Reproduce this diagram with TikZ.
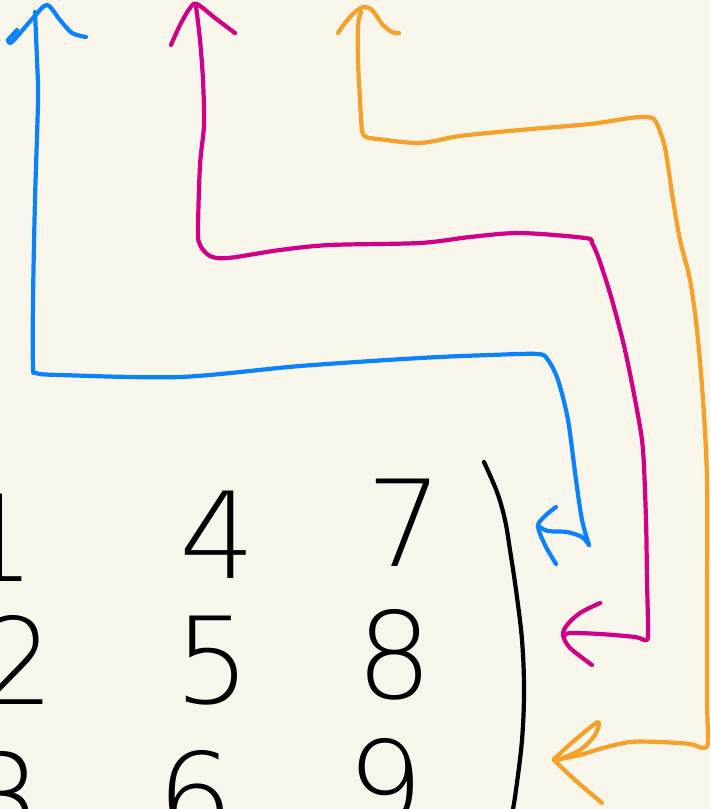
\documentclass[tikz,border=0pt]{standalone}
\usepackage{fontspec}
\newfontfamily\thindigits{DejaVu Sans ExtraLight}
\definecolor{bg}{RGB}{248,246,234}
\definecolor{pblue}{RGB}{12,130,250}
\definecolor{pmag}{RGB}{208,0,135}
\definecolor{porange}{RGB}{245,160,40}
\tikzset{
  pen/.style={line width=4.2pt,line cap=round,line join=round},
  digit/.style={font=\thindigits\fontsize{120}{120}\selectfont, inner sep=0pt, text=black}
}
\begin{document}
\begin{tikzpicture}[x=1pt,y=-1pt]
\useasboundingbox (0,0) rectangle (710,809);
\fill[bg] (0,0) rectangle (710,809);
\clip (0,0) rectangle (710,809);
% digits of the matrix
\node[digit] (d1) at (-2,538) {1};
\node[digit] (d2) at (17,660) {2};
\node[digit] (d3) at (4,797) {3};
\node[digit] (d4) at (218,535) {4};
\node[digit] (d5) at (213,661) {5};
\node[digit] (d6) at (196,796) {6};
\node[digit] (d7) at (405,523) {7};
\node[digit] (d8) at (395,655) {8};
\node[digit] (d9) at (386,784) {9};
% right bracket
\draw[pen,black] plot[smooth,tension=0.6] coordinates {(484,462) (497,492) (505,520) (510,550) (516,590) (522,640) (524,690) (522,740) (516,790) (512,815)};
% blue
\draw[pen,pblue] plot[smooth,tension=0.5] coordinates {(8,40) (12,42) (33,18) (47,5) (60,20) (72,33) (86,37)};
\draw[pen,pblue] (17,30) -- (8,40);
\draw[pen,pblue] plot[smooth,tension=0.5] coordinates {(35,12) (37,60) (38,100) (35,200) (33,300) (33,366) (36,373) (60,375) (180,377) (300,366) (420,358) (490,355) (538,354) (548,360) (558,380) (568,420) (576,480) (582,520) (589,545)};
\draw[pen,pblue] plot[smooth,tension=0.5] coordinates {(589,545) (582,537) (567,532) (548,531) (538,526)};
\draw[pen,pblue] plot[smooth,tension=0.5] coordinates {(556,507) (545,516) (538,526) (545,545) (556,564)};
% magenta
\draw[pen,pmag] plot[smooth,tension=0.5] coordinates {(171,45) (180,25) (190,8) (197,4) (215,18) (235,33)};
\draw[pen,pmag] plot[smooth,tension=0.5] coordinates {(196,6) (200,40) (203,80) (204,125) (200,165) (198,230) (200,245) (210,256) (228,258) (280,250) (330,245) (420,243) (470,237) (520,233) (585,238) (592,243) (600,262) (612,300) (625,350) (637,410) (643,450) (646,520) (647,580) (648,634) (645,640) (635,637) (600,634) (570,633) (564,636)};
\draw[pen,pmag] plot[smooth,tension=0.5] coordinates {(600,603) (580,613) (567,625) (563,635) (570,648) (592,665)};
% orange
\draw[pen,porange] plot[smooth,tension=0.5] coordinates {(338,33) (345,23) (355,12) (364,7) (372,10) (383,25) (392,32) (399,33)};
\draw[pen,porange] plot[smooth,tension=0.5] coordinates {(361,12) (358,25) (358,60) (360,100) (362,130) (366,137) (378,139) (420,143) (460,136) (520,130) (590,124) (630,118) (648,117) (656,122) (665,148) (673,200) (680,240) (690,280) (697,330) (703,400) (707,480) (707,600) (707,700) (708,742) (703,748) (690,744) (660,742) (630,742) (603,748) (580,755) (555,760)};
\draw[pen,porange] plot[smooth,tension=0.5] coordinates {(554,759) (575,740) (598,722) (595,735) (580,750) (558,760)};
\draw[pen,porange] plot[smooth,tension=0.5] coordinates {(554,760) (575,780) (602,803)};
\end{tikzpicture}
\end{document}
